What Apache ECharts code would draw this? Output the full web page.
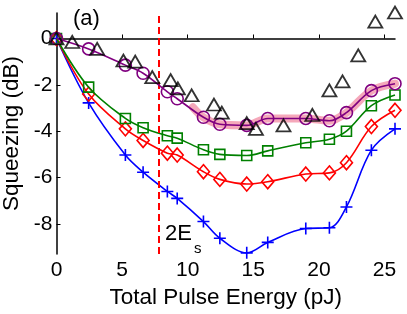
<!DOCTYPE html>
<html>
<head>
<meta charset="utf-8">
<script src="https://cdn.jsdelivr.net/npm/echarts@6/dist/echarts.min.js"></script>
<style>
html,body{margin:0;padding:0;background:#fff;}
#c{width:407px;height:314px;}
</style>
</head>
<body>
<div id="c"></div>
<script>
// Data
const energy = [0, 2.45, 5.25, 6.6, 8.45, 9.2, 11.2, 12.45, 14.5, 16.1, 19.0, 20.8, 22.1, 24.0, 25.8];
const sqPurple = [0, -0.45, -1.15, -1.5, -2.3, -2.6, -3.4, -3.7, -3.75, -3.45, -3.45, -3.55, -3.2, -2.25, -1.95];
const sqGreen  = [0, -2.1, -3.45, -3.85, -4.2, -4.3, -4.8, -5.0, -5.05, -4.85, -4.5, -4.35, -4.0, -2.9, -2.44];
const sqRed    = [0, -2.4, -3.9, -4.4, -4.95, -5.03, -5.75, -6.08, -6.28, -6.18, -5.85, -5.8, -5.36, -3.8, -3.1];
const sqBlue   = [0, -2.78, -5.03, -5.77, -6.6, -6.9, -7.9, -8.62, -9.25, -8.8, -8.2, -8.17, -7.27, -4.82, -3.9];
const bandEnergy = [10.4, 11.2, 12.45, 14.5, 16.1, 19.0, 20.8, 22.1, 24.0, 25.8];
const bandSq     = [-2.97, -3.4, -3.7, -3.75, -3.45, -3.45, -3.55, -3.2, -2.25, -1.95];
const triEnergy = [0, 1.2, 3.1, 5.1, 6.0, 7.3, 8.7, 9.25, 10.3, 12.0, 12.6, 14.5, 15.2, 17.3, 19.5, 20.8, 21.8, 23.0, 24.3, 25.8];
const triSq     = [0, -0.15, -0.45, -0.95, -1.0, -1.67, -1.8, -2.15, -2.45, -2.85, -3.2, -3.65, -3.9, -3.75, -3.3, -2.24, -1.85, -0.73, 0.73, 1.12];
const esEnergy = 7.8;
const xTicks = [0, 5, 10, 15, 20, 25];
const yTicks = [0, -2, -4, -6, -8];

const pair = (xs, ys) => xs.map((x, i) => [x, ys[i]]);
const FONT = 'Liberation Sans';

const chart = echarts.init(document.getElementById('c'), null, {renderer: 'canvas'});

function lineSeries(ys, color, symbol, size, z) {
  return {
    type: 'line',
    data: pair(energy, ys),
    smooth: 0.35,
    symbol: symbol,
    symbolSize: size,
    showAllSymbol: true,
    z: z,
    lineStyle: {color: color, width: 1.6},
    itemStyle: {color: 'none', borderColor: color, borderWidth: 1.6},
    emphasis: {disabled: true},
    animation: false
  };
}

const option = {
  animation: false,
  textStyle: {fontFamily: FONT},
  grid: {left: 56.5, right: 12, top: 13, bottom: 60, containLabel: false, outerBoundsMode: 'none'},
  xAxis: {
    type: 'value', min: 0, max: 25.8, interval: 5,
    name: 'Total Pulse Energy (pJ)', nameLocation: 'middle', nameGap: 31,
    nameTextStyle: {fontSize: 22.5, color: '#000', fontFamily: FONT},
    axisLine: {show: true, lineStyle: {color: '#000', width: 1.5}},
    axisTick: {show: true, inside: true, length: 4, lineStyle: {color: '#000', width: 1}, customValues: xTicks},
    axisLabel: {fontSize: 21, color: '#000', margin: 6, fontFamily: FONT, customValues: xTicks},
    splitLine: {show: false}
  },
  yAxis: {
    type: 'value', min: -9.3, max: 1.1,
    name: 'Squeezing (dB)', nameLocation: 'middle', nameGap: 27,
    nameTextStyle: {fontSize: 22.5, color: '#000', fontFamily: FONT},
    axisLine: {show: true, onZero: false, lineStyle: {color: '#000', width: 1.5}},
    axisTick: {show: true, inside: true, length: 4, lineStyle: {color: '#000', width: 1}, customValues: yTicks},
    axisLabel: {fontSize: 21, color: '#000', margin: 4, fontFamily: FONT, customValues: yTicks},
    splitLine: {show: false}
  },
  series: [
    {
      type: 'line', data: pair(bandEnergy, bandSq), smooth: 0.35, symbol: 'none', z: 1,
      lineStyle: {color: 'rgba(238,110,140,0.6)', width: 8, cap: 'round'},
      emphasis: {disabled: true}
    },
    lineSeries(sqBlue, '#0000ff', 'path://M5,0L5,10M0,5L10,5', 12, 2),
    lineSeries(sqRed, '#ff0000', 'diamond', [12, 14], 3),
    Object.assign(lineSeries(sqGreen, '#008000', 'rect', 10, 4), {
      markLine: {
        silent: true, symbol: ['none', 'none'], label: {show: false},
        lineStyle: {color: '#ff0000', type: [7, 4], width: 2},
        data: [{xAxis: esEnergy}],
        animation: false
      }
    }),
    lineSeries(sqPurple, '#800080', 'circle', 12, 5),
    {
      type: 'scatter', data: pair(triEnergy, triSq), symbol: 'triangle', symbolSize: [14, 12], z: 6,
      clip: false,
      itemStyle: {color: 'none', borderColor: '#000', borderWidth: 1.8},
      emphasis: {disabled: true}
    }
  ],
  graphic: [
    {type: 'text', left: 73, top: 8, style: {text: '(a)', font: '22px "Liberation Sans"', fill: '#000'}},
    {type: 'text', x: 165, y: 234, style: {text: '2E', font: '22px "Liberation Sans"', fill: '#000', verticalAlign: 'middle'}},
    {type: 'text', x: 194, y: 249, style: {text: 's', font: '15px "Liberation Sans"', fill: '#000', verticalAlign: 'middle'}}
  ]
};
chart.setOption(option);
</script>
</body>
</html>
